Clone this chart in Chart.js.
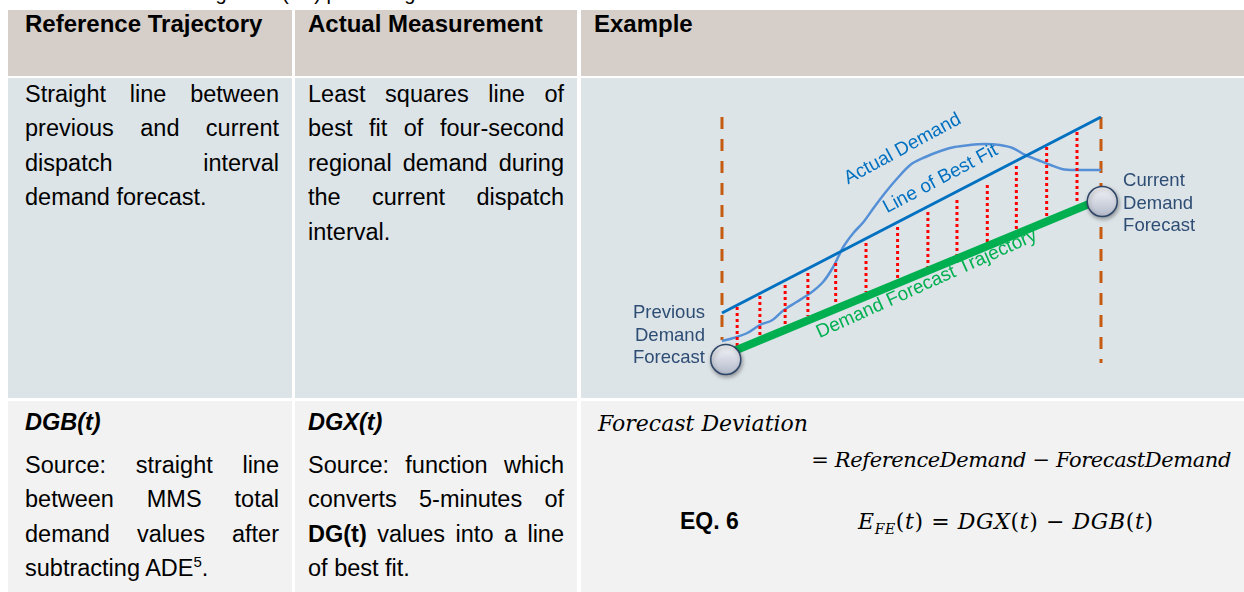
<!DOCTYPE html>
<html lang="en">
<head>
<meta charset="UTF-8">
<title>Forecast Deviation – Reference Trajectory vs Actual Measurement</title>
<script src="https://cdn.jsdelivr.net/npm/chart.js@4.4.0/dist/chart.umd.min.js"></script>
<style>
*{box-sizing:border-box;margin:0;padding:0}
html,body{width:1244px;height:592px;overflow:hidden;background:#fff}
body{position:relative;font-family:"Liberation Sans",Arial,sans-serif;color:#000}
.cap{position:absolute;left:52px;top:-17px;font-size:20px;line-height:20px;white-space:nowrap}
.cell{position:absolute}
.hd{background:#d6cfc9;top:10px;height:66px}
.r2{background:#dde4e8;top:78px;height:320px}
.r3{background:#f2f2f2;top:401px;height:191px}
.c1{left:8px;width:284px}
.c2{left:295px;width:282px}
.c3{left:581px;width:663px}
.h{position:absolute;top:12px;font-weight:bold;font-size:24px;line-height:24px;white-space:nowrap}
.txt{position:absolute;font-size:23.5px;line-height:34.4px}
.txt .j{text-align:justify;text-align-last:justify}
.t1{left:25px;width:254px}
.t2{left:308px;width:256px}
.bi{font-weight:bold;font-style:italic}
sup{font-size:15px;line-height:0;vertical-align:9px}
.m{position:absolute;font-family:"DejaVu Serif",serif;font-style:italic;font-size:22px;line-height:24px;white-space:nowrap}
.m .u{font-style:normal}
.m sub{font-size:14px;vertical-align:-5px;line-height:0}
.eq{position:absolute;left:680px;top:509px;font-weight:bold;font-size:23px;line-height:24px}
#diagram{position:absolute;left:581px;top:78px;width:663px;height:320px}
</style>
</head>
<body>
<div class="cap">Table 4 Forecasting Error (FE) percentage</div>

<div class="cell hd c1"></div>
<div class="cell hd c2"></div>
<div class="cell hd c3"></div>
<div class="cell r2 c1"></div>
<div class="cell r2 c2"></div>
<div class="cell r2 c3"></div>
<div class="cell r3 c1"></div>
<div class="cell r3 c2"></div>
<div class="cell r3 c3"></div>

<div class="h" style="left:25px">Reference Trajectory</div>
<div class="h" style="left:308px">Actual Measurement</div>
<div class="h" style="left:594px">Example</div>

<div class="txt t1" style="top:77px">
  <div class="j">Straight line between</div>
  <div class="j">previous and current</div>
  <div class="j">dispatch interval</div>
  <div>demand forecast.</div>
</div>
<div class="txt t2" style="top:77px">
  <div class="j">Least squares line of</div>
  <div class="j">best fit of four-second</div>
  <div class="j">regional demand during</div>
  <div class="j">the current dispatch</div>
  <div>interval.</div>
</div>

<div class="txt t1 bi" style="top:405px">DGB(t)</div>
<div class="txt t2 bi" style="top:405px">DGX(t)</div>
<div class="txt t1" style="top:448px">
  <div class="j">Source: straight line</div>
  <div class="j">between MMS total</div>
  <div class="j">demand values after</div>
  <div>subtracting ADE<sup>5</sup>.</div>
</div>
<div class="txt t2" style="top:448px">
  <div class="j">Source: function which</div>
  <div class="j">converts 5-minutes of</div>
  <div class="j"><b>DG(t)</b> values into a line</div>
  <div>of best fit.</div>
</div>

<div class="m" style="left:598px;top:412px">Forecast Deviation</div>
<div class="m" style="right:13px;top:448px;font-size:21px;letter-spacing:-0.4px"><span class="u">= </span>ReferenceDemand<span class="u"> − </span>ForecastDemand</div>
<div class="eq">EQ. 6</div>
<div class="m" style="left:858px;top:510px;letter-spacing:0.6px">E<sub>FE</sub><span class="u">(</span>t<span class="u">) = </span>DGX<span class="u">(</span>t<span class="u">) − </span>DGB<span class="u">(</span>t<span class="u">)</span></div>

<div id="diagram"><canvas id="chart"></canvas></div>

<script>
// one dispatch interval, seconds; demand in MW above an arbitrary base
const boundarySec = [0, 300];
const boundaryTopMW = [281, 281];
const boundaryBottomMW = [58, 35];

const forecastSec = [0, 300];
const forecastMW = [42, 199];
const forecastPointSec = [3, 301];
const forecastPointMW = [38.5, 196.5];

const bestFitSec = [0, 300];
const bestFitMW = [85, 281];

const actualSec = [0, 9, 20, 30, 40, 48, 59, 70, 80, 88, 96, 104, 112, 120, 129, 139, 149, 161, 173, 184, 196, 208, 220, 230, 240, 250, 260, 269, 279, 300];
const actualMW = [57, 60, 65, 73, 78, 87, 96, 105, 116, 131, 151, 165, 176, 190, 205, 220, 233, 241, 247, 251, 253, 254, 253, 250, 243, 238, 233, 229, 228, 228];

const deviationSec = [12, 30, 50, 68, 90, 114, 139, 163, 186, 210, 233, 257, 281];
const deviationTopMW = [91, 102, 113, 125, 135, 155, 171, 186, 198, 213, 232, 251, 266];
const deviationBottomMW = [52, 62, 72, 82, 92, 106, 119, 131, 143, 156, 168, 180, 194];

const pts = (xs, ys) => xs.map((x, i) => ({ x, y: ys[i] }));

const devPts = deviationSec.flatMap((x, i) => [
  { x, y: deviationTopMW[i] }, { x, y: deviationBottomMW[i] }, { x, y: null }
]);

const textLabels = [
  { lines: ["Actual Demand"], x: 143, y: 249, rotate: -28.5, align: "center", color: "#0070c0", size: 19 },
  { lines: ["Line of Best Fit"], x: 173, y: 219, rotate: -28, align: "center", color: "#0070c0", size: 19 },
  { lines: ["Demand Forecast Trajectory"], x: 162, y: 114, rotate: -24.3, align: "center", color: "#00b050", size: 19 },
  { lines: ["Previous", "Demand", "Forecast"], x: -13.5, y: 85, rotate: 0, align: "right", color: "#2e4d74", size: 18.5 },
  { lines: ["Current", "Demand", "Forecast"], x: 317.5, y: 217, rotate: 0, align: "left", color: "#2e4d74", size: 18.5 }
];

const labelPlugin = {
  id: "labels",
  afterDatasetsDraw(chart) {
    const { ctx, scales: { x, y } } = chart;
    ctx.save();
    ctx.textBaseline = "middle";
    textLabels.forEach(l => {
      ctx.save();
      ctx.font = l.size + 'px "Liberation Sans", Arial, sans-serif';
      ctx.translate(x.getPixelForValue(l.x), y.getPixelForValue(l.y));
      ctx.rotate(l.rotate * Math.PI / 180);
      ctx.fillStyle = l.color;
      ctx.textAlign = l.align;
      l.lines.forEach((t, i) => ctx.fillText(t, 0, i * 22.5));
      ctx.restore();
    });
    ctx.restore();
  }
};

const shadowPlugin = {
  id: "shadow",
  beforeDatasetDraw(chart, args) {
    if (!chart.data.datasets[args.index].shadow) return;
    const ctx = chart.ctx;
    ctx.save();
    ctx.shadowColor = "rgba(0,0,0,0.35)";
    ctx.shadowBlur = 4;
    ctx.shadowOffsetX = 1;
    ctx.shadowOffsetY = 2;
  },
  afterDatasetDraw(chart, args) {
    if (chart.data.datasets[args.index].shadow) chart.ctx.restore();
  }
};

function circleFill(c) {
  if (!c.raw || !c.chart.chartArea) return "#dde1ea";
  const px = c.chart.scales.x.getPixelForValue(c.raw.x);
  const py = c.chart.scales.y.getPixelForValue(c.raw.y);
  if (!isFinite(px) || !isFinite(py)) return "#dde1ea";
  const g = c.chart.ctx.createLinearGradient(px, py - 15, px, py + 15);
  g.addColorStop(0, "#f6f7fa");
  g.addColorStop(1, "#b3b9ca");
  return g;
}

const line = (data, color, width, extra) => Object.assign({
  data, borderColor: color, borderWidth: width, pointRadius: 0, fill: false
}, extra || {});

new Chart(document.getElementById("chart"), {
  type: "line",
  data: {
    datasets: [
      {
        data: pts(forecastPointSec, forecastPointMW), showLine: false, shadow: true,
        pointRadius: 15, pointBackgroundColor: circleFill, pointBorderColor: "#2d4567", pointBorderWidth: 1.5
      },
      line(pts(forecastSec, forecastMW), "#00b050", 8, { borderCapStyle: "butt" }),
      line(devPts, "#ff0000", 3, { borderDash: [3, 3], spanGaps: false }),
      line(pts(bestFitSec, bestFitMW), "#0070c0", 3),
      line(pts(actualSec, actualMW), "#5590d6", 2.5, { cubicInterpolationMode: "monotone" }),
      line([{ x: boundarySec[0], y: boundaryTopMW[0] }, { x: boundarySec[0], y: boundaryBottomMW[0] }], "#c55a11", 3, { borderDash: [12, 10] }),
      line([{ x: boundarySec[1], y: boundaryTopMW[1] }, { x: boundarySec[1], y: boundaryBottomMW[1] }], "#c55a11", 3, { borderDash: [12, 10] })
    ]
  },
  options: {
    responsive: true, maintainAspectRatio: false, animation: false,
    layout: { padding: 0, autoPadding: false },
    plugins: { legend: { display: false }, tooltip: { enabled: false } },
    scales: {
      x: { type: "linear", display: false, min: -111.6, max: 413.2 },
      y: { display: false, min: 0, max: 320 }
    }
  },
  plugins: [labelPlugin, shadowPlugin]
});
</script>
</body>
</html>
